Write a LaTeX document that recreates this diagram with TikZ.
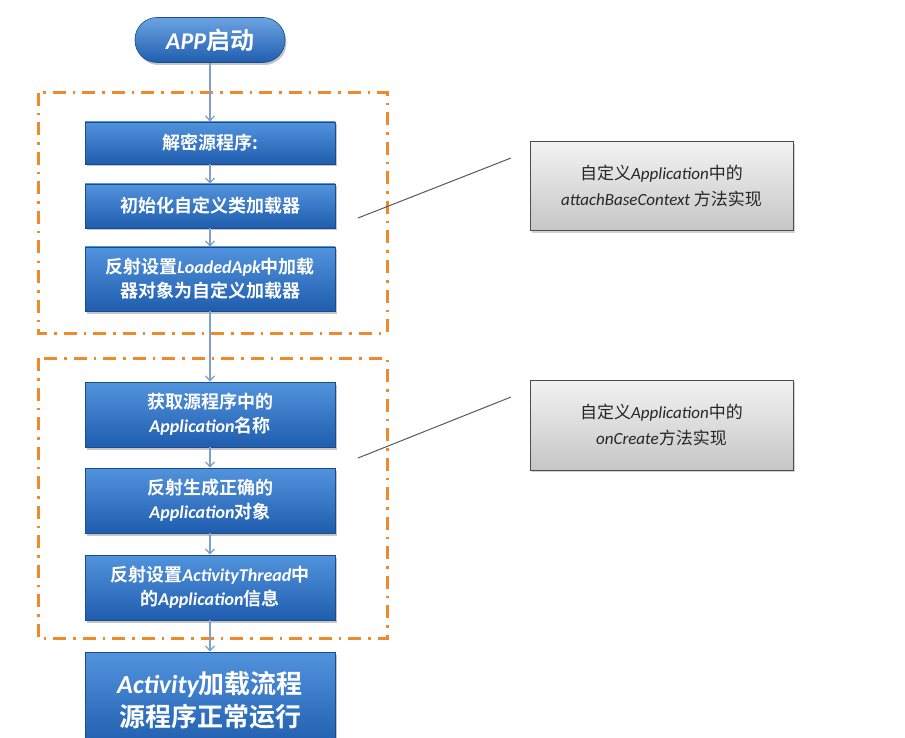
\documentclass[tikz,border=0pt]{standalone}
\usepackage{fontspec}
\setmainfont{Noto Sans CJK SC}[BoldFont=Noto Sans CJK SC Bold]
\newfontfamily\latfont{Carlito}
\usetikzlibrary{arrows.meta,shadows}
\newcommand\lib[1]{{\latfont\bfseries\itshape #1}}
\newcommand\lin[1]{{\latfont\itshape #1}}
\definecolor{btop}{HTML}{5293DD}
\definecolor{bbot}{HTML}{1F5DAE}
\definecolor{bdraw}{HTML}{1A4C8C}
\definecolor{dashor}{HTML}{EE8A2A}
\definecolor{arrowc}{HTML}{7E9FC8}
\definecolor{gtop}{HTML}{F2F2F2}
\definecolor{gbot}{HTML}{C6C6C6}
\tikzset{
  bluebox/.style={rectangle, top color=btop, bottom color=bbot, draw=bdraw, line width=0.6pt,
    minimum width=250pt, text=white, font=\fontsize{18}{24}\selectfont\bfseries, align=center,
    drop shadow={opacity=0.45, shadow xshift=1.5pt, shadow yshift=-2.5pt}, inner sep=0pt},
  pill/.style={rectangle, rounded corners=22pt, top color=btop!85!white, bottom color=bbot, draw=bdraw,
    line width=0.6pt, minimum width=150pt, minimum height=45pt, text=white,
    font=\fontsize{24}{28}\selectfont\bfseries,
    drop shadow={opacity=0.45, shadow xshift=1.5pt, shadow yshift=-2.5pt}},
  graybox/.style={rectangle, top color=gtop, bottom color=gbot, draw=black!70, line width=1pt,
    minimum width=263pt, text=black!85, font=\fontsize{17}{26}\selectfont, align=center,
    drop shadow={opacity=0.35, shadow xshift=1.5pt, shadow yshift=-2pt}},
  dashbox/.style={draw=dashor, line width=3pt, dash pattern=on 13pt off 7pt on 2.5pt off 7pt},
  flow/.style={draw=arrowc, line width=1.2pt, -{Straight Barb[length=5pt,width=9pt]}},
  callout/.style={draw=black!65, line width=1pt},
}
\begin{document}
\begin{tikzpicture}[x=1pt,y=-1pt]
\clip (0,0) rectangle (905,738);
\fill[white] (0,0) rectangle (905,738);
% dash-dot group frames
\draw[dashbox] (38,93) rectangle (387,333);
\draw[dashbox] (38,358) rectangle (387,638);
% nodes
\node[pill] (start) at (210,40) {\lib{APP}启动};
\node[bluebox, minimum height=42pt] (b1) at (210,143) {解密源程序:};
\node[bluebox, minimum height=44pt] (b2) at (210,206) {初始化自定义类加载器};
\node[bluebox, minimum height=64pt] (b3) at (210,279) {反射设置\lib{LoadedApk}中加载\\器对象为自定义加载器};
\node[bluebox, minimum height=65pt] (b4) at (210,414.5) {获取源程序中的\\\lib{Application}名称};
\node[bluebox, minimum height=65pt] (b5) at (210,500.5) {反射生成正确的\\\lib{Application}对象};
\node[bluebox, minimum height=65pt] (b6) at (210,587.5) {反射设置\lib{ActivityThread}中\\的\lib{Application}信息};
\node[bluebox, minimum height=96pt, font=\fontsize{26}{33}\selectfont\bfseries] (b7) at (210,700)
  {\lib{Activity}加载流程\\源程序正常运行};
\node[graybox, minimum height=89pt] (g1) at (661.5,186.5) {自定义\lin{Application}中的\\\lin{attachBaseContext} 方法实现};
\node[graybox, minimum height=90pt] (g2) at (661.5,425) {自定义\lin{Application}中的\\\lin{onCreate}方法实现};
% flow connectors
\draw[flow] (start) -- (b1);
\draw[flow] (b1) -- (b2);
\draw[flow] (b2) -- (b3);
\draw[flow] (b3) -- (b4);
\draw[flow] (b4) -- (b5);
\draw[flow] (b5) -- (b6);
\draw[flow] (b6) -- (b7);
% callout lines
\coordinate (c1a) at (358,218);
\coordinate (c1b) at (511,158);
\coordinate (c2a) at (358,458);
\coordinate (c2b) at (511,397);
\draw[callout] (c1a) -- (c1b);
\draw[callout] (c2a) -- (c2b);
\end{tikzpicture}
\end{document}
